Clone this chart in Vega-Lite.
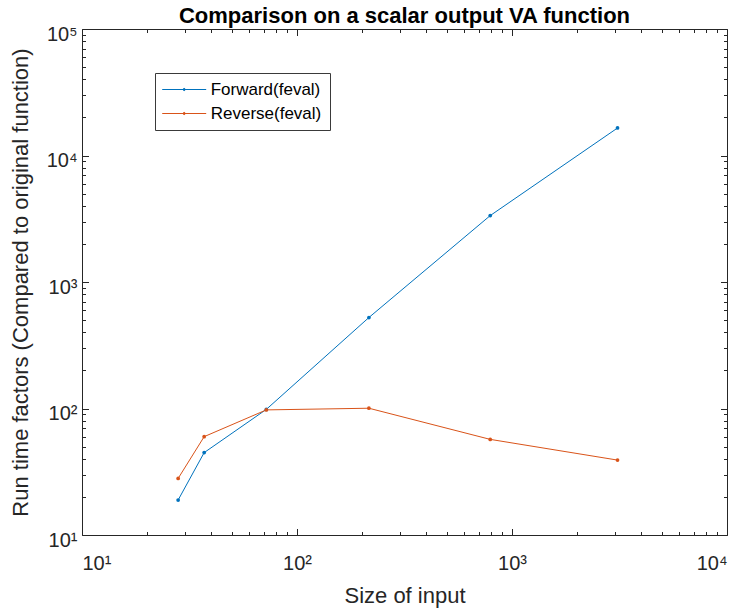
{
  "$schema": "https://vega.github.io/schema/vega-lite/v6.json",
  "width": 645,
  "height": 506,
  "autosize": {"type": "none"},
  "padding": {"left": 82, "top": 29, "right": 16, "bottom": 77},
  "background": "white",
  "title": {"text": "Comparison on a scalar output VA function", "fontSize": 22, "font": "Liberation Sans", "fontWeight": "bold", "color": "#000000", "offset": -4},
  "config": {
    "view": {"stroke": "#262626", "strokeWidth": 1},
    "axis": {"grid": false, "domain": false, "labelFont": "Liberation Sans", "titleFont": "Liberation Sans", "labelColor": "#262626", "titleColor": "#262626", "tickColor": "#262626", "titleFontWeight": "normal"}
  },
  "data": {"values": [
    {"size": 28, "factor": 18.9, "method": "Forward(feval)"},
    {"size": 37, "factor": 44.8, "method": "Forward(feval)"},
    {"size": 72, "factor": 98.4, "method": "Forward(feval)"},
    {"size": 216, "factor": 524, "method": "Forward(feval)"},
    {"size": 792, "factor": 3350, "method": "Forward(feval)"},
    {"size": 3096, "factor": 16500, "method": "Forward(feval)"},
    {"size": 28, "factor": 28.0, "method": "Reverse(feval)"},
    {"size": 37, "factor": 59.9, "method": "Reverse(feval)"},
    {"size": 72, "factor": 97.5, "method": "Reverse(feval)"},
    {"size": 216, "factor": 100.5, "method": "Reverse(feval)"},
    {"size": 792, "factor": 57.0, "method": "Reverse(feval)"},
    {"size": 3096, "factor": 39.1, "method": "Reverse(feval)"}
  ]},
  "layer": [
    {
      "mark": {"type": "line", "strokeWidth": 1, "point": {"filled": true, "size": 14}},
      "encoding": {
        "x": {"field": "size", "type": "quantitative", "scale": {"type": "log", "domain": [10, 10000], "nice": false},
          "axis": {"orient": "bottom", "values": [10, 100, 1000, 10000], "ticks": false, "labelFontSize": 20, "labelPadding": 18,
            "labelExpr": "'10' + ['⁰','¹','²','³','⁴','⁵'][round(log(datum.value)/LN10)]",
            "title": "Size of input", "titleFontSize": 22, "titlePadding": 12}},
        "y": {"field": "factor", "type": "quantitative", "scale": {"type": "log", "domain": [10, 100000], "nice": false},
          "axis": {"orient": "left", "values": [10, 100, 1000, 10000, 100000], "ticks": false, "labelFontSize": 20, "labelPadding": 5, "labelOffset": 5,
            "labelExpr": "'10' + ['⁰','¹','²','³','⁴','⁵'][round(log(datum.value)/LN10)]",
            "title": "Run time factors (Compared to original function)", "titleFontSize": 22, "titlePadding": 14}},
        "color": {"field": "method", "type": "nominal",
          "scale": {"domain": ["Forward(feval)", "Reverse(feval)"], "range": ["#0072BD", "#D95319"]},
          "legend": {"orient": "none", "legendX": 73, "legendY": 44, "title": null, "labelFontSize": 17, "labelFont": "Liberation Sans", "labelColor": "#000000",
            "strokeColor": "#3a3a3a", "fillColor": "white", "padding": 8, "rowPadding": 6,
            "symbolType": "M-3,0L3,0M-0.15,0A0.15,0.15,0,1,0,0.15,0A0.15,0.15,0,1,0,-0.15,0",
            "symbolSize": 215, "symbolStrokeWidth": 1, "symbolOffset": 12.7, "labelOffset": 18}}
      }
    },
    {
      "mark": {"type": "point", "opacity": 0},
      "encoding": {
        "x": {"field": "size", "type": "quantitative", "axis": {"orient": "bottom", "values": [10, 100, 1000, 10000], "labels": false, "tickSize": -6.5, "title": null}},
        "y": {"field": "factor", "type": "quantitative", "axis": {"orient": "left", "values": [10, 100, 1000, 10000, 100000], "labels": false, "tickSize": -6.5, "title": null}}
      }
    },
    {
      "mark": {"type": "point", "opacity": 0},
      "encoding": {
        "x": {"field": "size", "type": "quantitative", "axis": {"orient": "bottom", "values": [20, 30, 40, 50, 60, 70, 80, 90, 200, 300, 400, 500, 600, 700, 800, 900, 2000, 3000, 4000, 5000, 6000, 7000, 8000, 9000], "labels": false, "tickSize": -3.5, "title": null}},
        "y": {"field": "factor", "type": "quantitative", "axis": {"orient": "left", "values": [20, 30, 40, 50, 60, 70, 80, 90, 200, 300, 400, 500, 600, 700, 800, 900, 2000, 3000, 4000, 5000, 6000, 7000, 8000, 9000, 20000, 30000, 40000, 50000, 60000, 70000, 80000, 90000], "labels": false, "tickSize": -3.5, "title": null}}
      }
    },
    {
      "mark": {"type": "point", "opacity": 0},
      "encoding": {
        "x": {"field": "size", "type": "quantitative", "axis": {"orient": "top", "values": [10, 100, 1000, 10000], "labels": false, "tickSize": -6.5, "title": null}},
        "y": {"field": "factor", "type": "quantitative", "axis": {"orient": "right", "values": [10, 100, 1000, 10000, 100000], "labels": false, "tickSize": -6.5, "title": null}}
      }
    },
    {
      "mark": {"type": "point", "opacity": 0},
      "encoding": {
        "x": {"field": "size", "type": "quantitative", "axis": {"orient": "top", "values": [20, 30, 40, 50, 60, 70, 80, 90, 200, 300, 400, 500, 600, 700, 800, 900, 2000, 3000, 4000, 5000, 6000, 7000, 8000, 9000], "labels": false, "tickSize": -3.5, "title": null}},
        "y": {"field": "factor", "type": "quantitative", "axis": {"orient": "right", "values": [20, 30, 40, 50, 60, 70, 80, 90, 200, 300, 400, 500, 600, 700, 800, 900, 2000, 3000, 4000, 5000, 6000, 7000, 8000, 9000, 20000, 30000, 40000, 50000, 60000, 70000, 80000, 90000], "labels": false, "tickSize": -3.5, "title": null}}
      }
    }
  ],
  "resolve": {"axis": {"x": "independent", "y": "independent"}}
}
